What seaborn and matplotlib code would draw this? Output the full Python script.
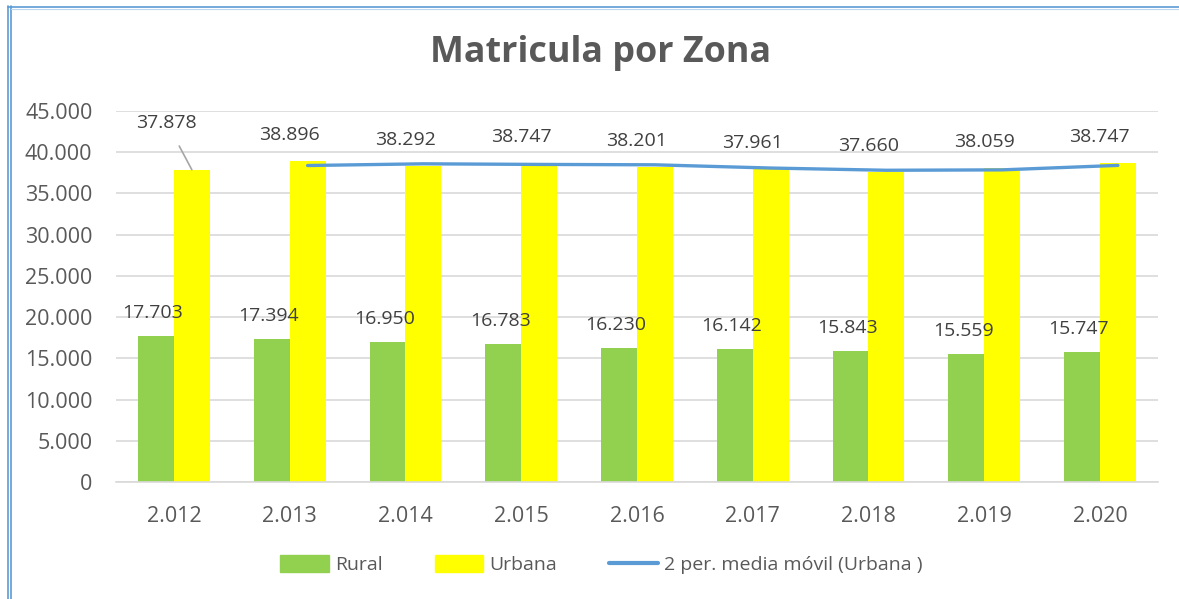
import pandas as pd
import numpy as np
import seaborn as sns
import matplotlib.pyplot as plt
from matplotlib.lines import Line2D
from matplotlib.patches import Patch

# --- data ---
years = ["2.012", "2.013", "2.014", "2.015", "2.016", "2.017", "2.018", "2.019", "2.020"]
rural = [17703, 17394, 16950, 16783, 16230, 16142, 15843, 15559, 15747]
urbana = [37878, 38896, 38292, 38747, 38201, 37961, 37660, 38059, 38747]
# 2-period moving average of Urbana (starts at 2.013)
media_movil = [38387, 38594, 38520, 38474, 38081, 37811, 37860, 38403]

rural_labels = ["17.703", "17.394", "16.950", "16.783", "16.230", "16.142", "15.843", "15.559", "15.747"]
urbana_labels = ["37.878", "38.896", "38.292", "38.747", "38.201", "37.961", "37.660", "38.059", "38.747"]
yticks = [0, 5000, 10000, 15000, 20000, 25000, 30000, 35000, 40000, 45000]
ytick_labels = ["0", "5.000", "10.000", "15.000", "20.000", "25.000", "30.000", "35.000", "40.000", "45.000"]

df = pd.DataFrame({
    "year": years * 2,
    "valor": rural + urbana,
    "zona": ["Rural"] * len(years) + ["Urbana"] * len(years),
})

GREEN = "#92D050"
YELLOW = "#FFFF00"
BLUE = "#5B9BD5"
GRAY = "#595959"

sns.set_style("white")
plt.rcParams["font.family"] = ["Open Sans", "DejaVu Sans"]

fig = plt.figure(figsize=(11.79, 5.99), dpi=100)
ax = fig.add_axes([0.0984, 0.1953, 0.8836, 0.6194])

width = 0.62
sns.barplot(data=df, x="year", y="valor", hue="zona", order=years,
            hue_order=["Rural", "Urbana"], palette=[GREEN, YELLOW],
            width=width, linewidth=0, saturation=1, ax=ax, legend=False)

# moving average line drawn through the Urbana bar centres
xs = np.arange(1, len(years)) + width / 4
ax.plot(xs, media_movil, color=BLUE, lw=2.4, solid_capstyle="round", zorder=4)

ax.set_xlim(-0.5, len(years) - 0.5)
ax.set_ylim(0, 45000)
ax.set_yticks(yticks)
ax.set_yticklabels(ytick_labels)
ax.yaxis.grid(True, color="#D9D9D9", lw=1.2)
ax.set_axisbelow(True)
for s in ["top", "right", "left"]:
    ax.spines[s].set_visible(False)
ax.spines["bottom"].set_color("#D9D9D9")
ax.spines["bottom"].set_linewidth(1.2)
ax.tick_params(axis="both", length=0, colors=GRAY, labelsize=15.5)
ax.tick_params(axis="y", pad=17)
ax.tick_params(axis="x", pad=17)
ax.set_xlabel("")
ax.set_ylabel("")

# data labels
for i, (v, lab) in enumerate(zip(rural, rural_labels)):
    ax.annotate(lab, (i - width / 4, v), xytext=(-3, 23), textcoords="offset pixels",
                ha="center", va="center", fontsize=14, color="#404040")
for i, (v, lab) in enumerate(zip(urbana, urbana_labels)):
    if i == 0:
        ax.annotate(lab, (i + width / 4, v), xytext=(-25, 47), textcoords="offset pixels",
                    ha="center", va="center", fontsize=14, color="#404040",
                    arrowprops=dict(arrowstyle="-", color="#A6A6A6", lw=1.2,
                                    shrinkA=9, shrinkB=0))
    else:
        ax.annotate(lab, (i + width / 4, v), xytext=(-18, 26), textcoords="offset pixels",
                    ha="center", va="center", fontsize=14, color="#404040")

fig.text(0.509, 0.911, "Matricula por Zona", ha="center", va="center",
         fontsize=25.8, fontweight="bold", color=GRAY)

handles = [Patch(color=GREEN), Patch(color=YELLOW),
           Line2D([0], [0], color=BLUE, lw=3, solid_capstyle="round")]
fig.legend(handles, ["Rural", "Urbana", "2 per. media móvil (Urbana )"],
           loc="center", bbox_to_anchor=(0.51, 0.057), ncol=3, frameon=False,
           fontsize=14, labelcolor=GRAY, handlelength=2.5, handleheight=0.9,
           handletextpad=0.3, columnspacing=2.7)

# blue double border on the left and top
for x0 in [0.0068, 0.0093]:
    fig.add_artist(Line2D([x0, x0], [0, 0.99], color="#5B9BD5", lw=1.2))
fig.add_artist(Line2D([0.0068, 1], [0.988, 0.988], color="#5B9BD5", lw=1.2))
fig.add_artist(Line2D([0.0093, 1], [0.985, 0.985], color="#BDD7EE", lw=0.8))

fig.savefig("out.png", dpi=100, facecolor="white")
